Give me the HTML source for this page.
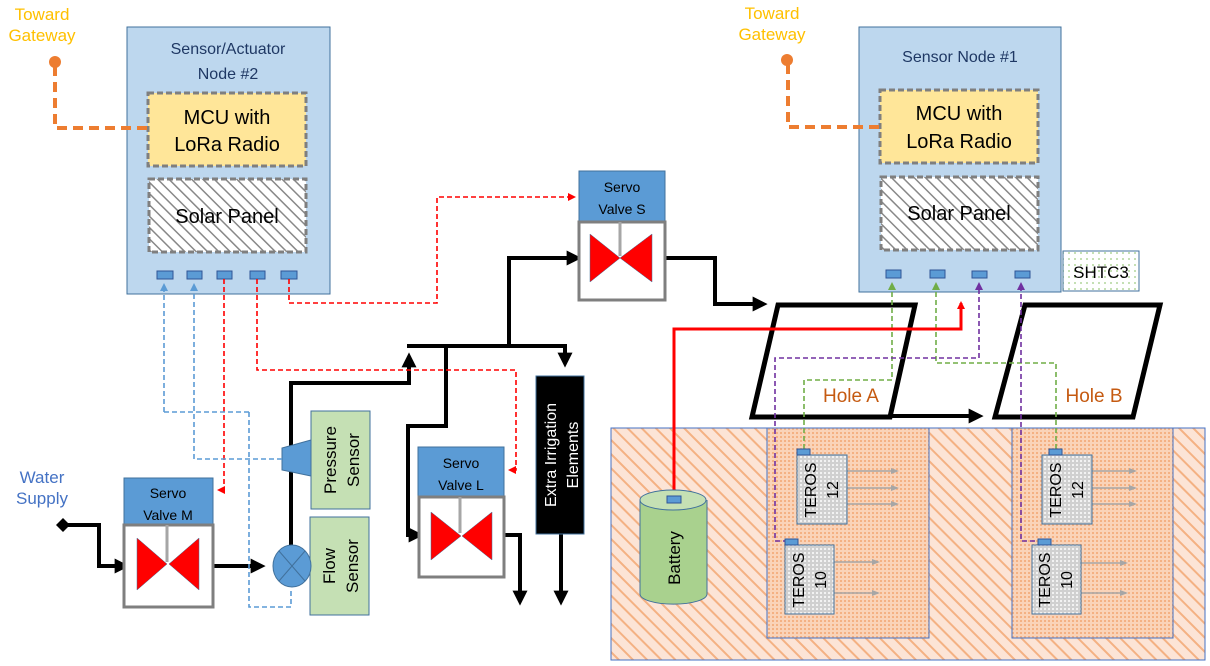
<!DOCTYPE html>
<html><head><meta charset="utf-8"><style>
html,body{margin:0;padding:0;background:#fff;}
svg{display:block;font-family:"Liberation Sans",sans-serif;}
</style></head><body>
<svg width="1210" height="666" viewBox="0 0 1210 666" xmlns="http://www.w3.org/2000/svg">
<defs>
<pattern id="hatch" width="8" height="8" patternUnits="userSpaceOnUse" patternTransform="rotate(-45)">
<rect width="8" height="8" fill="#fff"/><line x1="0" y1="0" x2="0" y2="8" stroke="#888" stroke-width="3"/></pattern>
<pattern id="soil" width="10" height="10" patternUnits="userSpaceOnUse" patternTransform="rotate(-45)">
<rect width="10" height="10" fill="#fce4d6"/><line x1="0" y1="0" x2="0" y2="10" stroke="#f4b183" stroke-width="4"/></pattern>
<pattern id="dots" width="4" height="4" patternUnits="userSpaceOnUse"><rect width="4" height="4" fill="#fad3b8"/><rect width="2" height="2" fill="#f4b183"/></pattern>
<pattern id="gdots" width="4" height="4" patternUnits="userSpaceOnUse"><rect width="4" height="4" fill="#d0d0d0"/><rect width="2" height="2" fill="#f2f2f2"/></pattern>
<pattern id="green" width="6" height="6" patternUnits="userSpaceOnUse"><rect width="6" height="6" fill="#fff"/><rect width="2" height="2" fill="#c5e0b4"/></pattern>
<marker id="ab" markerWidth="15" markerHeight="15" refX="5" refY="4" orient="auto" markerUnits="userSpaceOnUse" viewBox="0 0 8 8"><path d="M0,0 L8,4 L0,8z" fill="#000"/></marker>
<marker id="ar" markerWidth="8" markerHeight="8" refX="6" refY="4" orient="auto" markerUnits="userSpaceOnUse"><path d="M0,0 L8,4 L0,8z" fill="#f00"/></marker>
<marker id="ab2" markerWidth="8" markerHeight="8" refX="6" refY="4" orient="auto" markerUnits="userSpaceOnUse"><path d="M0,0 L8,4 L0,8z" fill="#5b9bd5"/></marker>
<marker id="ag" markerWidth="8" markerHeight="8" refX="6" refY="4" orient="auto" markerUnits="userSpaceOnUse"><path d="M0,0 L8,4 L0,8z" fill="#70ad47"/></marker>
<marker id="ap" markerWidth="8" markerHeight="8" refX="6" refY="4" orient="auto" markerUnits="userSpaceOnUse"><path d="M0,0 L8,4 L0,8z" fill="#7030a0"/></marker>
<marker id="agr" markerWidth="8" markerHeight="8" refX="6" refY="4" orient="auto" markerUnits="userSpaceOnUse"><path d="M0,1 L8,4 L0,7z" fill="#a6a6a6"/></marker>
</defs>

<rect x="611" y="428" width="594" height="232" fill="url(#soil)" stroke="#4472c4" stroke-width="1"/>
<rect x="767" y="428" width="162" height="210" fill="url(#dots)" stroke="#4472c4" stroke-width="1"/>
<rect x="1012" y="428" width="161" height="210" fill="url(#dots)" stroke="#4472c4" stroke-width="1"/>

<rect x="127" y="27" width="203" height="267" fill="#bdd7ee" stroke="#41719c"/>
<text x="228" y="54" text-anchor="middle" font-size="16" fill="#1f3864">Sensor/Actuator</text>
<text x="228" y="79" text-anchor="middle" font-size="16" fill="#1f3864">Node #2</text>
<rect x="148" y="93" width="158" height="73" fill="#ffe699" stroke="#7f7f7f" stroke-width="3" stroke-dasharray="6,3"/>
<text x="227" y="124" text-anchor="middle" font-size="20">MCU with</text>
<text x="227" y="151" text-anchor="middle" font-size="20">LoRa Radio</text>
<rect x="149" y="179" width="157" height="73" fill="url(#hatch)" stroke="#7f7f7f" stroke-width="3" stroke-dasharray="6,3"/>
<text x="227" y="223" text-anchor="middle" font-size="20">Solar Panel</text>
<g fill="#5b9bd5" stroke="#2f5597"><rect x="157" y="271" width="16" height="8"/><rect x="187" y="271" width="15" height="8"/><rect x="217" y="271" width="15" height="8"/><rect x="250" y="271" width="15" height="8"/><rect x="281" y="271" width="16" height="8"/></g>

<rect x="859" y="27" width="202" height="265" fill="#bdd7ee" stroke="#41719c"/>
<text x="960" y="62" text-anchor="middle" font-size="16" fill="#1f3864">Sensor Node #1</text>
<rect x="880" y="90" width="158" height="73" fill="#ffe699" stroke="#7f7f7f" stroke-width="3" stroke-dasharray="6,3"/>
<text x="959" y="120" text-anchor="middle" font-size="20">MCU with</text>
<text x="959" y="148" text-anchor="middle" font-size="20">LoRa Radio</text>
<rect x="881" y="177" width="157" height="73" fill="url(#hatch)" stroke="#7f7f7f" stroke-width="3" stroke-dasharray="6,3"/>
<text x="959" y="220" text-anchor="middle" font-size="20">Solar Panel</text>
<g fill="#5b9bd5" stroke="#2f5597"><rect x="886" y="270" width="15" height="8"/><rect x="930" y="270" width="15" height="8"/><rect x="972" y="271" width="15" height="7"/><rect x="1015" y="271" width="15" height="7"/></g>
<rect x="1063" y="251" width="76" height="40" fill="url(#green)" stroke="#41719c"/>
<text x="1101" y="278" text-anchor="middle" font-size="17">SHTC3</text>

<text x="42" y="20" text-anchor="middle" font-size="17" fill="#ffc000">Toward</text>
<text x="42" y="41" text-anchor="middle" font-size="17" fill="#ffc000">Gateway</text>
<circle cx="55" cy="62" r="6" fill="#ed7d31"/>
<path d="M55,66 V128 H148" fill="none" stroke="#ed7d31" stroke-width="4" stroke-dasharray="10,6"/>
<text x="772" y="19" text-anchor="middle" font-size="17" fill="#ffc000">Toward</text>
<text x="772" y="40" text-anchor="middle" font-size="17" fill="#ffc000">Gateway</text>
<circle cx="787" cy="60" r="6" fill="#ed7d31"/>
<path d="M788,64 V127 H880" fill="none" stroke="#ed7d31" stroke-width="4" stroke-dasharray="10,6"/>

<text x="42" y="483" text-anchor="middle" font-size="17" fill="#4472c4">Water</text>
<text x="42" y="504" text-anchor="middle" font-size="17" fill="#4472c4">Supply</text>

<g fill="none" stroke="#000" stroke-width="4">
<path d="M66,525 H99 V566 H124" marker-end="url(#ab)"/>
<path d="M205,566 H260" marker-end="url(#ab)"/>
<path d="M291,548 V383 H409 V358" marker-end="url(#ab)"/>
<path d="M407,346 H565 V362" marker-end="url(#ab)"/>
<path d="M509,346 V258 H576" marker-end="url(#ab)"/>
<path d="M446,346 V426 H408 V535 H418" marker-end="url(#ab)"/>
<path d="M492,535 H520 V600" marker-end="url(#ab)"/>
<path d="M561,534 V600" marker-end="url(#ab)"/>
<path d="M655,258 H715 V304 H762" marker-end="url(#ab)"/>
<path d="M890,416 H978" marker-end="url(#ab)"/>
<path d="M778,305 H915 L890,417 H752 Z" stroke-width="5"/>
<path d="M1025,305 H1160 L1133,417 H995 Z" stroke-width="5"/>
</g>
<path d="M63,518 L70,525 L63,532 L56,525Z" fill="#000"/>

<g>
<rect x="579" y="171" width="86" height="51" fill="#5b9bd5" stroke="#41719c"/>
<text x="622" y="192" text-anchor="middle" font-size="14">Servo</text>
<text x="622" y="214" text-anchor="middle" font-size="14">Valve S</text>
<rect x="579" y="222" width="86" height="78" fill="#fff" stroke="#7f7f7f" stroke-width="3"/>
<line x1="620" y1="222" x2="620" y2="256" stroke="#a6a6a6" stroke-width="3"/>
<path d="M590,234 L620,258 L590,282Z M652,234 L620,258 L652,282Z" fill="#f00" stroke="#41719c" stroke-width=".5"/>
</g>
<g>
<rect x="124" y="478" width="89" height="47" fill="#5b9bd5" stroke="#41719c"/>
<text x="168" y="498" text-anchor="middle" font-size="14">Servo</text>
<text x="168" y="520" text-anchor="middle" font-size="14">Valve M</text>
<rect x="124" y="525" width="89" height="82" fill="#fff" stroke="#7f7f7f" stroke-width="3"/>
<line x1="167" y1="525" x2="167" y2="562" stroke="#a6a6a6" stroke-width="3"/>
<path d="M137,538 L167,564 L137,590Z M199,538 L169,564 L199,590Z" fill="#f00" stroke="#41719c" stroke-width=".5"/>
</g>
<g>
<rect x="418" y="447" width="86" height="50" fill="#5b9bd5" stroke="#41719c"/>
<text x="461" y="468" text-anchor="middle" font-size="14">Servo</text>
<text x="461" y="490" text-anchor="middle" font-size="14">Valve L</text>
<rect x="419" y="497" width="85" height="80" fill="#fff" stroke="#7f7f7f" stroke-width="3"/>
<line x1="460" y1="497" x2="460" y2="533" stroke="#a6a6a6" stroke-width="3"/>
<path d="M431,512 L461,536 L431,560Z M492,512 L462,536 L492,560Z" fill="#f00" stroke="#41719c" stroke-width=".5"/>
</g>

<rect x="311" y="411" width="59" height="98" fill="#c5e0b4" stroke="#41719c"/>
<text transform="translate(336,460) rotate(-90)" text-anchor="middle" font-size="17">Pressure</text>
<text transform="translate(359,460) rotate(-90)" text-anchor="middle" font-size="17">Sensor</text>
<path d="M311,440 L282,448 V470 L311,476Z" fill="#5b9bd5" stroke="#41719c"/>
<rect x="310" y="517" width="59" height="98" fill="#c5e0b4" stroke="#41719c"/>
<text transform="translate(335,566) rotate(-90)" text-anchor="middle" font-size="17">Flow</text>
<text transform="translate(358,566) rotate(-90)" text-anchor="middle" font-size="17">Sensor</text>
<ellipse cx="292" cy="566" rx="19" ry="21" fill="#5b9bd5" stroke="#41719c"/>
<path d="M279,551 L305,581 M305,551 L279,581" stroke="#41719c"/>

<rect x="536" y="376" width="48" height="158" fill="#000" stroke="#41719c"/>
<text transform="translate(556,455) rotate(-90)" text-anchor="middle" font-size="16" fill="#fff">Extra Irrigation</text>
<text transform="translate(578,455) rotate(-90)" text-anchor="middle" font-size="16" fill="#fff">Elements</text>

<g fill="none" stroke-width="1.6" stroke-dasharray="5,3">
<path d="M224,279 V490 H219" stroke="#f00" marker-end="url(#ar)"/>
<path d="M257,279 V370 H516 V470 H510" stroke="#f00" marker-end="url(#ar)"/>
<path d="M289,279 V303 H437 V197 H574" stroke="#f00" marker-end="url(#ar)"/>
<path d="M249,412 V607 H291 V588" stroke="#5b9bd5"/>
<path d="M164,412 H249" stroke="#5b9bd5"/>
<path d="M164,412 V285" stroke="#5b9bd5" marker-end="url(#ab2)"/>
<path d="M282,459 H194 V285" stroke="#5b9bd5" marker-end="url(#ab2)"/>
<path d="M804,449 V380 H892 V284" stroke="#70ad47" marker-end="url(#ag)"/>
<path d="M1056,449 V363 H936 V284" stroke="#70ad47" marker-end="url(#ag)"/>
<path d="M788,541 H775 V358 H979 V284" stroke="#7030a0" marker-end="url(#ap)"/>
<path d="M1035,541 H1021 V284" stroke="#7030a0" marker-end="url(#ap)"/>
</g>
<path d="M674,497 V329 H961 V303" fill="none" stroke="#f00" stroke-width="3" marker-end="url(#ar)"/>

<text x="851" y="402" text-anchor="middle" font-size="19" fill="#c55a11">Hole A</text>
<text x="1094" y="402" text-anchor="middle" font-size="19" fill="#c55a11">Hole B</text>

<path d="M640,500 V594 A33,10 0 0 0 707,594 V500" fill="#a9d18e" stroke="#41719c"/>
<ellipse cx="673" cy="500" rx="33" ry="10" fill="#c5e0b4" stroke="#41719c"/>
<rect x="667" y="496" width="14" height="7" fill="#5b9bd5" stroke="#2f5597"/>
<text transform="translate(680,558) rotate(-90)" text-anchor="middle" font-size="17">Battery</text>

<g stroke="#a6a6a6" stroke-width="1.5" marker-end="url(#agr)">
<line x1="847" y1="471" x2="897" y2="471"/><line x1="847" y1="488" x2="897" y2="488"/><line x1="847" y1="504" x2="897" y2="504"/>
<line x1="834" y1="562" x2="878" y2="562"/><line x1="834" y1="593" x2="878" y2="593"/>
<line x1="1092" y1="471" x2="1135" y2="471"/><line x1="1092" y1="488" x2="1135" y2="488"/><line x1="1092" y1="504" x2="1135" y2="504"/>
<line x1="1081" y1="563" x2="1126" y2="563"/><line x1="1081" y1="593" x2="1126" y2="593"/>
</g>
<g stroke="#41719c" fill="url(#gdots)">
<rect x="797" y="455" width="50" height="69"/><rect x="785" y="545" width="49" height="69"/>
<rect x="1042" y="455" width="50" height="69"/><rect x="1032" y="545" width="49" height="69"/>
</g>
<g fill="#5b9bd5" stroke="#2f5597">
<rect x="797" y="449" width="13" height="6"/><rect x="785" y="539" width="13" height="6"/>
<rect x="1049" y="449" width="13" height="6"/><rect x="1038" y="539" width="13" height="6"/>
</g>
<g font-size="16" text-anchor="middle">
<text transform="translate(816,490) rotate(-90)">TEROS</text><text transform="translate(838,490) rotate(-90)">12</text>
<text transform="translate(804,580) rotate(-90)">TEROS</text><text transform="translate(826,580) rotate(-90)">10</text>
<text transform="translate(1061,490) rotate(-90)">TEROS</text><text transform="translate(1083,490) rotate(-90)">12</text>
<text transform="translate(1050,580) rotate(-90)">TEROS</text><text transform="translate(1072,580) rotate(-90)">10</text>
</g>
</svg>
</body></html>
